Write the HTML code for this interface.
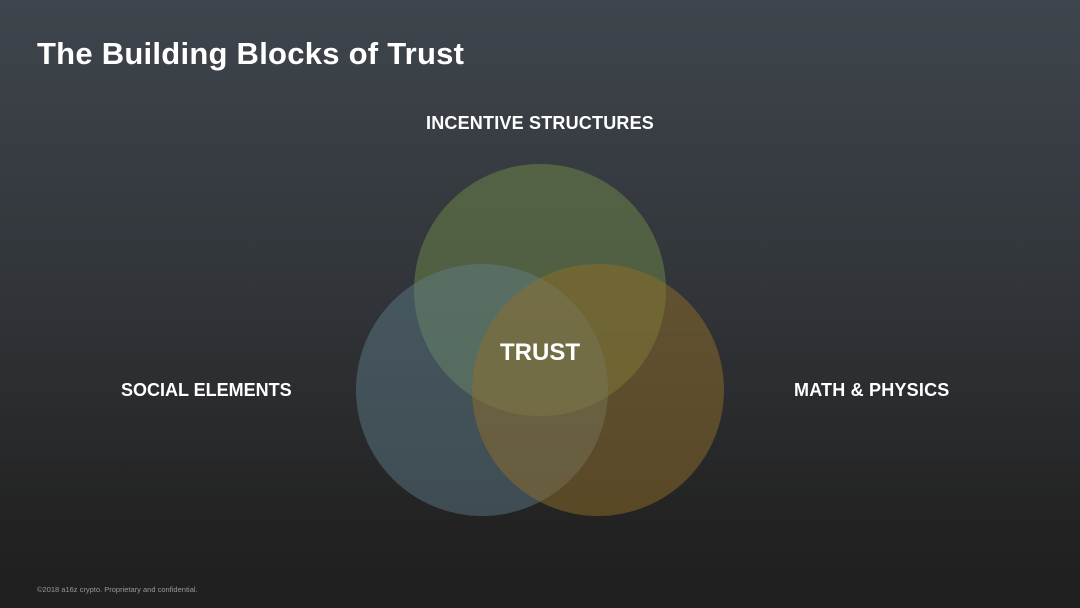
<!DOCTYPE html>
<html><head><style>
html,body{margin:0;padding:0}
body{width:1080px;height:608px;overflow:hidden;background:linear-gradient(180deg,#3e454c 0%,#32363b 45%,#232323 85%,#1f1f1f 100%);font-family:"Liberation Sans",sans-serif;color:#fff;position:relative}
.t{position:absolute;white-space:nowrap}
</style></head><body>
<div class="t" style="left:37px;top:36px;font-size:31px;font-weight:bold;letter-spacing:0.25px;">The Building Blocks of Trust</div>
<div class="t" style="left:426px;top:113px;font-size:18px;font-weight:bold;letter-spacing:0.2px;">INCENTIVE STRUCTURES</div>
<div class="t" style="left:121px;top:380px;font-size:18px;font-weight:bold;">SOCIAL ELEMENTS</div>
<div class="t" style="left:794px;top:380px;font-size:18px;font-weight:bold;letter-spacing:0.2px;">MATH &amp; PHYSICS</div>
<svg width="1080" height="608" style="position:absolute;left:0;top:0">
<circle cx="540" cy="290" r="126" fill="#6f8a48" fill-opacity="0.5"/>
<circle cx="482" cy="390" r="126" fill="#62808f" fill-opacity="0.45"/>
<circle cx="598" cy="390" r="126" fill="#8f6d2a" fill-opacity="0.5"/>
<text x="540" y="360" text-anchor="middle" font-family="Liberation Sans" font-weight="bold" font-size="24" fill="#fff">TRUST</text>
</svg>
<div class="t" style="left:37px;top:585px;font-size:7.5px;color:#999;">©2018 a16z crypto. Proprietary and confidential.</div>
</body></html>
